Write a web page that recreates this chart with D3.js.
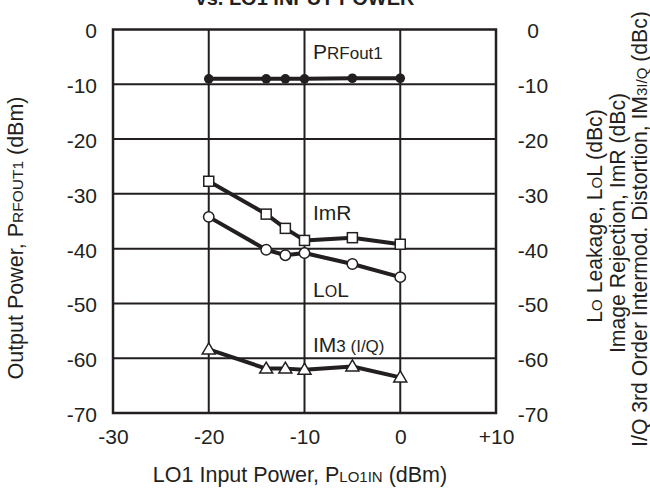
<!DOCTYPE html>
<html>
<head>
<meta charset="utf-8">
<script src="https://cdn.jsdelivr.net/npm/d3@7"></script>
<style>
  html, body { margin: 0; padding: 0; background: #fff; }
  svg { display: block; font-family: "Liberation Sans", Arial, Helvetica, sans-serif; }
</style>
</head>
<body>
<div id="chart"></div>
<script>
// ---- data ----
const loPower = [-20, -14, -12, -10, -5, 0];
const prfout1 = [-9.0, -9.0, -9.0, -9.0, -8.9, -8.9];
const imr     = [-27.7, -33.7, -36.3, -38.5, -38.0, -39.2];
const lol     = [-34.2, -40.2, -41.2, -40.8, -42.8, -45.2];
const im3     = [-58.4, -61.9, -61.9, -62.1, -61.5, -63.5];
const xTicks = [-30, -20, -10, 0, 10];
const xTickLabels = ["-30", "-20", "-10", "0", "+10"];
const yTicks = [0, -10, -20, -30, -40, -50, -60, -70];
const yTickLabels = ["0", "-10", "-20", "-30", "-40", "-50", "-60", "-70"];

const W = 650, H = 492;
const ink = "#231f20";
const svg = d3.select("#chart").append("svg").attr("width", W).attr("height", H);
svg.append("rect").attr("width", W).attr("height", H).attr("fill", "#fff");

const x = d3.scaleLinear().domain([-30, 10]).range([113, 496]);
const y = d3.scaleLinear().domain([0, -70]).range([29.5, 413]);

// grid
const grid = svg.append("g").attr("stroke", ink).attr("stroke-width", 2);
grid.selectAll("line.v").data(xTicks.slice(1, -1)).join("line")
  .attr("x1", d => x(d)).attr("x2", d => x(d)).attr("y1", y(0)).attr("y2", y(-70));
grid.selectAll("line.h").data(yTicks.slice(1, -1)).join("line")
  .attr("x1", x(-30)).attr("x2", x(10)).attr("y1", d => y(d)).attr("y2", d => y(d));
svg.append("rect").attr("x", x(-30)).attr("y", y(0))
  .attr("width", x(10) - x(-30)).attr("height", y(-70) - y(0))
  .attr("fill", "none").attr("stroke", ink).attr("stroke-width", 2.5);

// axes labels
const fmtX = d => xTickLabels[xTicks.indexOf(d)];
const fmtY = d => yTickLabels[yTicks.indexOf(d)];
const ax = svg.append("g").attr("transform", `translate(0,${y(-70)})`)
  .call(d3.axisBottom(x).tickValues(xTicks).tickFormat(fmtX).tickSize(0).tickPadding(16));
const ayl = svg.append("g").attr("transform", `translate(${x(-30)},0)`)
  .call(d3.axisLeft(y).tickValues(yTicks).tickFormat(fmtY).tickSize(0).tickPadding(16));
const ayr = svg.append("g").attr("transform", `translate(${x(10)},0)`)
  .call(d3.axisRight(y).tickValues(yTicks).tickFormat(fmtY).tickSize(0).tickPadding(37));
[ax, ayl, ayr].forEach(g => {
  g.select(".domain").remove();
  g.selectAll("text").attr("font-size", 21).attr("fill", ink)
    .attr("font-family", "Liberation Sans, Arial, sans-serif");
});
ayr.selectAll("text").attr("text-anchor", "middle");
ayl.selectAll("text").attr("dy", "0.40em");
ayr.selectAll("text").attr("dy", "0.40em");

// series
const line = d3.line().x(d => x(d[0])).y(d => y(d[1]));
const series = [
  { vals: prfout1, marker: "dot" },
  { vals: imr, marker: "square" },
  { vals: lol, marker: "circle" },
  { vals: im3, marker: "triangle" }
];
series.forEach(s => {
  const pts = loPower.map((p, i) => [p, s.vals[i]]);
  svg.append("path").datum(pts).attr("d", line)
    .attr("fill", "none").attr("stroke", ink).attr("stroke-width", 4).attr("stroke-linejoin", "round");
  const g = svg.append("g");
  if (s.marker === "dot") {
    g.selectAll("circle").data(pts).join("circle")
      .attr("cx", d => x(d[0])).attr("cy", d => y(d[1])).attr("r", 4.8).attr("fill", ink);
  } else if (s.marker === "circle") {
    g.selectAll("circle").data(pts).join("circle")
      .attr("cx", d => x(d[0])).attr("cy", d => y(d[1])).attr("r", 5.2)
      .attr("fill", "#fff").attr("stroke", ink).attr("stroke-width", 1.5);
  } else if (s.marker === "square") {
    g.selectAll("rect").data(pts).join("rect")
      .attr("x", d => x(d[0]) - 5).attr("y", d => y(d[1]) - 5).attr("width", 10).attr("height", 10)
      .attr("fill", "#fff").attr("stroke", ink).attr("stroke-width", 1.5);
  } else {
    g.selectAll("path").data(pts).join("path")
      .attr("transform", d => `translate(${x(d[0])},${y(d[1])})`)
      .attr("d", "M0,-6.5L6.5,4.5L-6.5,4.5Z")
      .attr("fill", "#fff").attr("stroke", ink).attr("stroke-width", 1.5);
  }
});

// helper to write text with size-varying tspans
function rich(g, parts) {
  parts.forEach(([t, sz]) => g.append("tspan").attr("font-size", sz).text(t));
}
const big = 21, small = 17;
let t;
t = svg.append("text").attr("x", 313).attr("y", 59).attr("fill", ink);
rich(t, [["P", big], ["RFout1", small]]);
t = svg.append("text").attr("x", 313).attr("y", 220).attr("fill", ink);
rich(t, [["ImR", big]]);
t = svg.append("text").attr("x", 313).attr("y", 297).attr("fill", ink);
rich(t, [["L", big], ["O", 16], ["L", big]]);
t = svg.append("text").attr("x", 313).attr("y", 352).attr("fill", ink);
rich(t, [["IM", big], ["3 (I/Q)", small]]);

// title (cropped at top, as in the reference)
svg.append("text").attr("x", 305).attr("y", 5).attr("text-anchor", "middle")
  .attr("font-size", 20).attr("font-weight", "bold").attr("fill", ink)
  .text("vs. LO1 INPUT POWER");

// x axis title
t = svg.append("text").attr("x", 300).attr("y", 482).attr("text-anchor", "middle").attr("fill", ink);
rich(t, [["LO1 Input Power, P", 21.5], ["LO1IN", 15], [" (dBm)", 21.5]]);

// left y title
t = svg.append("text").attr("transform", "translate(23,238) rotate(-90)")
  .attr("text-anchor", "middle").attr("fill", ink);
rich(t, [["Output Power, P", 21.5], ["RFOUT1", 15.5], [" (dBm)", 21.5]]);

// right titles
const rs = 21.2, rsm = 15;
t = svg.append("text").attr("transform", "translate(602,216) rotate(-90)")
  .attr("text-anchor", "middle").attr("fill", ink);
rich(t, [["L", rs], ["O", rsm], [" Leakage, L", rs], ["O", rsm], ["L (dBc)", rs]]);
t = svg.append("text").attr("transform", "translate(625,223) rotate(-90)")
  .attr("text-anchor", "middle").attr("fill", ink);
rich(t, [["Image Rejection, ImR (dBc)", rs]]);
t = svg.append("text").attr("transform", "translate(647,229) rotate(-90)")
  .attr("text-anchor", "middle").attr("fill", ink);
rich(t, [["I/Q 3rd Order Intermod. Distortion, IM", rs], ["3I/Q", rsm], [" (dBc)", rs]]);
</script>
</body>
</html>
